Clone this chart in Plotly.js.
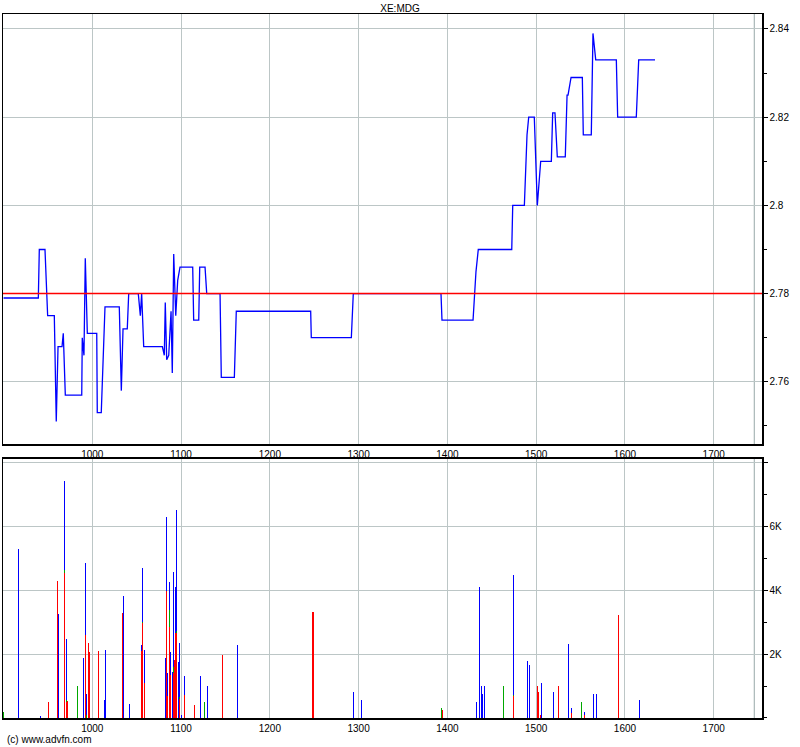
<!DOCTYPE html>
<html>
<head>
<meta charset="utf-8">
<script src="https://cdn.plot.ly/plotly-3.0.1.min.js"></script>
<style>
  html, body { margin: 0; padding: 0; background: #fff; }
  #chart { width: 800px; height: 747px; }
</style>
</head>
<body>
<div id="chart"></div>
<script>
// ---- Data ----
const chartTitle = "XE:MDG";
const prevClose = 2.78;

// price line vertices (trade index, price)
const priceX = [900, 939.2, 940.3, 946.7, 949.7, 957.2, 959.4, 961.4, 965.9, 967.3, 969.6,
  988.1, 988.7, 990.6, 992.1, 994.4, 1005.0, 1005.6, 1010.1, 1014.3, 1030.4, 1032.7, 1034.6,
  1039.4, 1041.0, 1051.8, 1054.1, 1055.6, 1057.9, 1078.9, 1081.1, 1082.2, 1083.8, 1086.1,
  1088.7, 1090.1, 1091.7, 1094.0, 1096.2, 1098.8, 1101.8, 1113.1, 1114.2, 1119.9, 1121.0,
  1127.0, 1128.9, 1143.9, 1145.3, 1160.0, 1162.2, 1246.0, 1246.7, 1291.8, 1294.0, 1392.8,
  1393.9, 1428.9, 1432.2, 1434.8, 1472.5, 1473.6, 1486.7, 1488.9, 1489.7, 1491.6, 1497.9,
  1501.3, 1505.1, 1517.1, 1518.6, 1521.2, 1523.8, 1532.8, 1534.8, 1535.9, 1539.3, 1552.0,
  1553.1, 1562.1, 1564.0, 1567.1, 1590.3, 1591.8, 1612.8, 1615.5, 1633.9];
const priceY = [2.779, 2.779, 2.790, 2.790, 2.775, 2.775, 2.751, 2.768, 2.768, 2.771, 2.757,
  2.757, 2.770, 2.766, 2.788, 2.771, 2.771, 2.753, 2.753, 2.777, 2.777, 2.758, 2.772,
  2.772, 2.780, 2.780, 2.775, 2.780, 2.768, 2.768, 2.766, 2.778, 2.765, 2.766,
  2.776, 2.762, 2.789, 2.775, 2.783, 2.786, 2.786, 2.786, 2.774, 2.774, 2.786,
  2.786, 2.780, 2.780, 2.761, 2.761, 2.776, 2.776, 2.770, 2.770, 2.780, 2.780,
  2.774, 2.774, 2.785, 2.790, 2.790, 2.800, 2.800, 2.816, 2.816, 2.820, 2.820,
  2.800, 2.810, 2.810, 2.821, 2.821, 2.811, 2.811, 2.825, 2.825, 2.829, 2.829,
  2.816, 2.816, 2.839, 2.833, 2.833, 2.820, 2.820, 2.833, 2.833];

// volume bars: position, and stacked parts (red bottom, green middle, blue top)
const volX = [900, 916.6, 941.4, 950.9, 960.6, 961.7, 968.5, 970.8, 971.8, 983.1, 989.9,
  992.1, 993.2, 995.2, 996.6, 1007.2, 1013.5, 1014.6, 1033.8, 1034.9, 1041.7, 1055.2,
  1056.3, 1058.6, 1082.2, 1083.4, 1084.5, 1086.7, 1087.9, 1090.1, 1091.2, 1092.4, 1093.5,
  1094.6, 1096.9, 1098.0, 1100.7, 1103.6, 1114.9, 1121.7, 1126.2, 1129.5, 1146.4, 1163.3,
  1248.6, 1294.6, 1303.6, 1393.2, 1394.3, 1432.6, 1436.0, 1438.2, 1439.3, 1441.6, 1463.0,
  1474.3, 1490.0, 1492.3, 1501.3, 1502.4, 1504.7, 1505.8, 1519.3, 1525.0, 1536.2, 1539.6,
  1550.9, 1554.2, 1564.4, 1567.8, 1592.5, 1616.2];
const volRed = [0, 0, 0, 510, 4290, 0, 4530, 500, 540, 0, 0,
  2600, 0, 2330, 2070, 2100, 0, 0, 3290, 0, 0, 2080,
  2970, 1100, 0, 3960, 680, 2860, 1350, 0, 1400, 1820, 2670,
  2650, 0, 600, 0, 730, 415, 0, 0, 0, 1980, 0,
  3320, 0, 0, 0, 260, 0, 0, 0, 0, 0, 0,
  680, 0, 0, 1010, 820, 100, 0, 0, 1010, 0, 160,
  0, 100, 0, 0, 3230, 0];
const volGreen = [200, 0, 0, 0, 0, 0, 100, 50, 0, 1010, 0,
  0, 100, 0, 0, 0, 0, 0, 0, 0, 0, 0,
  40, 0, 0, 0, 0, 530, 0, 0, 200, 0, 0,
  60, 0, 50, 0, 0, 0, 0, 510, 0, 0, 0,
  0, 0, 0, 320, 0, 0, 0, 0, 0, 0, 1010,
  30, 0, 0, 0, 0, 0, 0, 0, 0, 0, 0,
  510, 0, 0, 0, 0, 0];
const volBlue = [0, 5290, 70, 0, 0, 3250, 2785, 1930, 0, 0, 1885,
  2250, 660, 0, 0, 0, 570, 2130, 0, 3820, 450, 210,
  1690, 1030, 1885, 2330, 735, 870, 720, 1450, 2970, 0, 1430,
  3800, 1760, 1700, 100, 590, 0, 1320, 0, 1010, 0, 2290,
  0, 820, 570, 0, 0, 510, 4110, 1010, 760, 1010, 0,
  3770, 1790, 1655, 0, 0, 0, 1090, 820, 0, 2320, 160,
  0, 100, 760, 760, 0, 570];

const xTicks = [1000, 1100, 1200, 1300, 1400, 1500, 1600, 1700];
const priceTicks = [2.76, 2.78, 2.80, 2.82, 2.84];
const volTicks = [2000, 4000, 6000, 8000];
const volTickText = ["2K", "4K", "6K", ""];
const markerX = 1745.7;

// ---- Styles ----
const gridCol = "#bcc6c6";
const fnt = { family: "Liberation Sans, Arial, sans-serif", size: 10, color: "#000" };
const barW = 1.15;

const traces = [
  { type: "scatter", mode: "lines", x: priceX, y: priceY, xaxis: "x2", yaxis: "y",
    line: { color: "#0000ff", width: 1.3, shape: "linear" }, hoverinfo: "skip" },
  { type: "bar", x: volX, y: volRed, xaxis: "x", yaxis: "y2", width: barW,
    marker: { color: "#ff0000", line: { width: 0 } }, hoverinfo: "skip" },
  { type: "bar", x: volX, y: volGreen, xaxis: "x", yaxis: "y2", width: barW,
    marker: { color: "#00a800", line: { width: 0 } }, hoverinfo: "skip" },
  { type: "bar", x: volX, y: volBlue, xaxis: "x", yaxis: "y2", width: barW,
    marker: { color: "#0000ff", line: { width: 0 } }, hoverinfo: "skip" }
];

const xRange = [899.4, 1754.4];
const xCommon = {
  range: xRange, tickvals: xTicks, showgrid: true, gridcolor: gridCol,
  gridwidth: 1, showline: true, linecolor: "#000", linewidth: 1.5, mirror: true,
  ticks: "", tickfont: fnt, zeroline: false, fixedrange: true
};

const layout = {
  width: 800, height: 747,
  margin: { l: 3, r: 38, t: 14, b: 29, pad: 0 },
  paper_bgcolor: "#fff", plot_bgcolor: "#fff",
  showlegend: false,
  barmode: "stack",
  bargap: 0,
  font: fnt,
  title: { text: chartTitle, font: { family: "Liberation Sans, Arial, sans-serif", size: 10, color: "#000" },
    x: 0.5, xref: "container", y: 0.989, yref: "container", yanchor: "middle" },
  xaxis: Object.assign({}, xCommon, { anchor: "y2", domain: [0, 1] }),
  xaxis2: Object.assign({}, xCommon, { anchor: "y", domain: [0, 1], matches: "x" }),
  yaxis: {
    domain: [0.3892, 1], range: [2.7459, 2.8434], side: "right", anchor: "x2",
    tickvals: priceTicks, ticktext: priceTicks.map(v => String(+v.toFixed(2))),
    showgrid: true, gridcolor: gridCol,
    showline: true, linecolor: "#000", linewidth: 1.5, mirror: true,
    ticks: "outside", ticklen: 4, tickcolor: "#000", tickfont: fnt,
    minor: { dtick: 0.01, tick0: 2.75, ticks: "outside", ticklen: 3, tickcolor: "#000", showgrid: false },
    zeroline: false, fixedrange: true
  },
  yaxis2: {
    domain: [0, 0.3679], range: [0, 8100], side: "right", anchor: "x",
    tickvals: volTicks, ticktext: volTickText,
    showgrid: true, gridcolor: gridCol,
    showline: true, linecolor: "#000", linewidth: 1.5, mirror: true,
    ticks: "outside", ticklen: 4, tickcolor: "#000", tickfont: fnt,
    minor: { dtick: 1000, tick0: 0, ticks: "outside", ticklen: 3, tickcolor: "#000", showgrid: false },
    zeroline: false, fixedrange: true
  },
  shapes: [
    { type: "line", xref: "x2 domain", yref: "y", x0: 0, x1: 1, y0: prevClose, y1: prevClose,
      line: { color: "#ff0000", width: 1.5 } },
    { type: "line", xref: "x2", yref: "y domain", x0: markerX, x1: markerX, y0: 0, y1: 1,
      line: { color: "#98a8a8", width: 1 }, layer: "below" },
    { type: "line", xref: "x", yref: "y2 domain", x0: markerX, x1: markerX, y0: 0, y1: 1,
      line: { color: "#98a8a8", width: 1 }, layer: "below" }
  ],
  annotations: [
    { text: "(c) www.advfn.com", xref: "paper", yref: "paper", x: 0, y: 0, xshift: 2, yshift: -21,
      xanchor: "left", yanchor: "middle", showarrow: false,
      font: { family: "Liberation Sans, Arial, sans-serif", size: 10, color: "#000" } }
  ]
};

Plotly.newPlot("chart", traces, layout, { displayModeBar: false, staticPlot: true });
</script>
</body>
</html>
